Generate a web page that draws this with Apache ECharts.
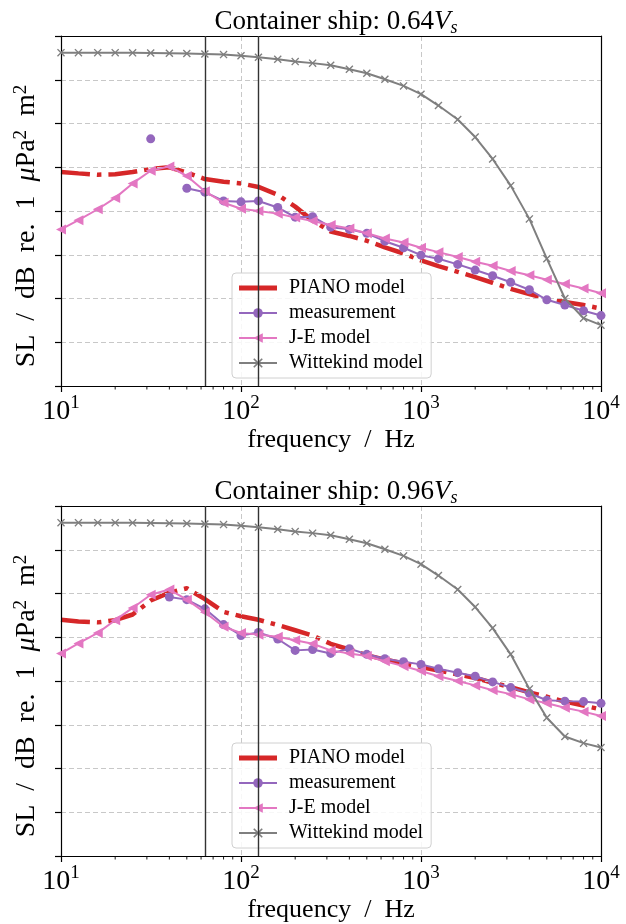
<!DOCTYPE html>
<html><head><meta charset="utf-8">
<script src="https://cdn.jsdelivr.net/npm/echarts@6/dist/echarts.min.js"></script>
<style>html,body{margin:0;padding:0;background:#fff}#c{width:626px;height:924px}</style>
</head><body><div id="c"></div>
<script>
// 1/3-octave band centre frequencies (Hz)
const freqs = [10, 12.5, 16, 20, 25, 31.5, 40, 50, 63, 80, 100, 125, 160, 200, 250, 315, 400, 500, 630, 800, 1000, 1250, 1600, 2000, 2500, 3150, 4000, 5000, 6300, 8000, 10000];

// Panel 1: 0.64 Vs
const pianoA = [148.9, 148.6, 148.3, 148.4, 148.9, 149.6, 150.0, 148.8, 147.3, 146.7, 146.3, 145.5, 143.7, 141.0, 137.8, 135.3, 134.3, 133.2, 131.7, 130.3, 128.7, 127.4, 126.1, 124.9, 123.6, 122.2, 121.0, 120.0, 119.2, 118.5, 117.7];
const measA = [null, null, null, null, null, 156.5, null, 145.2, 144.3, 142.3, 142.1, 142.3, 140.8, 138.6, 138.7, 136.3, 135.8, 134.9, 133.1, 131.6, 129.9, 129.1, 127.8, 126.5, 125.2, 123.7, 122.0, 119.7, 118.5, 117.2, 116.1];
const jeA = [135.8, 137.9, 140.4, 143.0, 146.3, 149.2, 150.2, 148.0, 144.5, 141.9, 140.5, 140.0, 139.4, 138.5, 137.7, 136.8, 136.0, 134.9, 133.7, 132.8, 131.6, 130.6, 129.5, 128.4, 127.5, 126.3, 125.3, 124.3, 123.3, 122.3, 121.2];
const wittA = [176.2, 176.2, 176.2, 176.2, 176.15, 176.1, 176.05, 176.0, 175.9, 175.75, 175.5, 175.15, 174.7, 174.15, 173.8, 173.3, 172.4, 171.5, 170.1, 168.6, 166.7, 164.1, 160.9, 156.9, 151.9, 145.8, 138.2, 129.1, 120.0, 115.5, 113.9];

// Panel 2: 0.96 Vs
const pianoB = [154.0, 153.6, 153.4, 153.9, 155.2, 158.4, 160.2, 161.2, 158.7, 155.8, 154.8, 154.0, 152.8, 151.6, 150.4, 148.5, 147.2, 145.9, 144.9, 144.0, 143.2, 142.4, 141.5, 140.7, 139.6, 138.6, 137.4, 136.4, 135.3, 134.4, 133.5];
const measB = [null, null, null, null, null, null, 159.2, 158.6, 156.5, 152.9, 150.4, 151.1, 149.6, 147.0, 147.2, 146.3, 147.4, 146.1, 145.1, 144.4, 143.8, 142.8, 141.9, 141.1, 139.8, 138.5, 137.2, 135.6, 135.4, 135.3, 134.9];
const jeB = [146.3, 148.6, 151.0, 153.9, 156.7, 159.7, 160.9, 158.6, 155.7, 152.4, 151.0, 150.6, 150.1, 149.3, 148.5, 147.0, 146.3, 145.7, 144.5, 143.4, 142.3, 141.1, 140.0, 139.0, 137.9, 137.0, 135.8, 134.9, 133.9, 133.0, 132.0];
const wittB = [176.2, 176.2, 176.2, 176.2, 176.15, 176.1, 176.05, 176.0, 175.9, 175.75, 175.5, 175.15, 174.7, 174.15, 173.8, 173.3, 172.4, 171.5, 170.1, 168.6, 166.7, 164.1, 160.9, 156.9, 152.1, 146.1, 138.2, 131.6, 127.3, 125.8, 124.8];

const seriesNames = ['PIANO model', 'measurement', 'J-E model', 'Wittekind model'];
const speeds = ['0.64', '0.96'];
const bandEdges = [63, 125];
const minorTicks = [20, 30, 40, 50, 60, 70, 80, 90, 200, 300, 400, 500, 600, 700, 800, 900, 2000, 3000, 4000, 5000, 6000, 7000, 8000, 9000];
const yRange = [100, 180];
const yStep = 10;

const panels = [
  { piano: pianoA, meas: measA, je: jeA, witt: wittA },
  { piano: pianoB, meas: measB, je: jeB, witt: wittB }
];

const FONT = 'Liberation Serif';
const COLORS = ['#d62728', '#9467bd', '#e377c2', '#7f7f7f'];
const XPATH = 'path://M0,1.2L1.2,0L5,3.8L8.8,0L10,1.2L6.2,5L10,8.8L8.8,10L5,6.2L1.2,10L0,8.8L3.8,5Z';
const BAR = 'path://M0,0H38V5H0Z';
const zip = (ys) => freqs.map((f, i) => [f, ys[i]]);

const gridTops = [36, 506];
const gridH = 350;
const nPanels = panels.length;

const grids = [], xAxes = [], yAxes = [], series = [], titles = [], legends = [];

panels.forEach((p, i) => {
  grids.push({ left: 61, width: 540, top: gridTops[i], height: gridH, show: false, containLabel: false });
  xAxes[i] = {
    type: 'log', logBase: 10, min: 10, max: 10000, gridIndex: i, position: 'bottom',
    name: 'frequency  /  Hz', nameLocation: 'middle', nameGap: 41,
    nameTextStyle: { fontFamily: FONT, fontSize: 26, color: '#000' },
    axisLine: { show: true, lineStyle: { color: '#000', width: 1.2 } },
    axisTick: { show: true, inside: false, length: 6, lineStyle: { color: '#000', width: 1.2 } },
    axisLabel: {
      margin: 8, color: '#000',
      formatter: (v) => '{b|10}{s|' + Math.round(Math.log10(v)) + '}',
      rich: {
        b: { fontFamily: FONT, fontSize: 28, lineHeight: 32, verticalAlign: 'bottom', color: '#000' },
        s: { fontFamily: FONT, fontSize: 19, lineHeight: 19, verticalAlign: 'top', color: '#000' }
      }
    },
    splitLine: { show: true, lineStyle: { color: '#c8c8c8', type: [5, 3], width: 1 } },
    z: 3
  };
  // top frame edge
  xAxes[nPanels + i] = {
    type: 'log', logBase: 10, min: 10, max: 10000, gridIndex: i, position: 'top',
    axisLine: { show: true, onZero: false, lineStyle: { color: '#000', width: 1.2 } },
    axisTick: { show: false }, axisLabel: { show: false }, splitLine: { show: false }, z: 3
  };
  yAxes[i] = {
    type: 'value', min: yRange[0], max: yRange[1], interval: yStep, gridIndex: i, position: 'left',
    name: 'SL  /  dB  re.  1  {i|μ}Pa{p|2}  m{p|2}', nameLocation: 'middle', nameGap: 19, nameRotate: 90,
    nameTextStyle: {
      fontFamily: FONT, fontSize: 28, color: '#000', lineHeight: 30, padding: [0, 30, 0, 0],
      rich: {
        i: { fontFamily: FONT, fontSize: 28, fontStyle: 'italic', color: '#000', lineHeight: 30 },
        p: { fontFamily: FONT, fontSize: 19, color: '#000', lineHeight: 19, verticalAlign: 'top' }
      }
    },
    axisLine: { show: true, onZero: false, lineStyle: { color: '#000', width: 1.2 } },
    axisTick: { show: true, inside: false, length: 6, lineStyle: { color: '#000', width: 1.2 } },
    axisLabel: { show: false },
    splitLine: { show: true, lineStyle: { color: '#c8c8c8', type: [5, 3], width: 1 } },
    z: 3
  };
  // right frame edge
  yAxes[nPanels + i] = {
    type: 'value', min: yRange[0], max: yRange[1], interval: yStep, gridIndex: i, position: 'right',
    axisLine: { show: true, onZero: false, lineStyle: { color: '#000', width: 1.2 } },
    axisTick: { show: false }, axisLabel: { show: false }, splitLine: { show: false }, z: 3
  };
  titles.push({
    text: 'Container ship: ' + speeds[i] + '{v|V}{s|s}',
    left: 331, top: gridTops[i] - 34, textAlign: 'center',
    textStyle: {
      fontFamily: FONT, fontSize: 27, fontWeight: 'normal', color: '#000', lineHeight: 30,
      rich: {
        v: { fontFamily: FONT, fontSize: 27, fontStyle: 'italic', color: '#000', lineHeight: 30 },
        s: { fontFamily: FONT, fontSize: 18, fontStyle: 'italic', color: '#000', lineHeight: 18, verticalAlign: 'bottom' }
      }
    }
  });
  legends.push({
    data: seriesNames.map((n, k) => (k === 0 ? { name: n, icon: BAR } : { name: n })),
    orient: 'vertical', left: 232, top: gridTops[i] + 237,
    itemWidth: 38, itemHeight: 12, itemGap: 5, symbolKeepAspect: true,
    padding: [5, 8, 5, 6],
    backgroundColor: 'rgba(255,255,255,0.85)', borderColor: '#d0d0d0', borderWidth: 1, borderRadius: 4,
    textStyle: { fontFamily: FONT, fontSize: 20, color: '#000', lineHeight: 20, padding: [0, 0, 0, 7] },
    selectedMode: false
  });

  series.push({
    name: seriesNames[0], type: 'line', xAxisIndex: i, yAxisIndex: i, data: zip(p.piano),
    symbol: 'none', showSymbol: false, z: 2,
    itemStyle: { color: COLORS[0] },
    lineStyle: { color: COLORS[0], width: 4.5, type: [29, 7, 4.5, 7], cap: 'butt' },
    markLine: {
      silent: true, symbol: 'none', animation: false, label: { show: false },
      lineStyle: { color: '#333', width: 1.4, type: 'solid' },
      emphasis: { disabled: true },
      data: bandEdges.map((f) => ({ xAxis: f }))
    }
  });
  series.push({
    name: seriesNames[1], type: 'line', xAxisIndex: i, yAxisIndex: i, data: zip(p.meas),
    symbol: 'circle', symbolSize: 9, showSymbol: true, connectNulls: false, z: 3,
    itemStyle: { color: COLORS[1] },
    lineStyle: { color: COLORS[1], width: 2 }
  });
  series.push({
    name: seriesNames[2], type: 'line', xAxisIndex: i, yAxisIndex: i, data: zip(p.je),
    symbol: 'triangle', symbolRotate: 90, symbolSize: 10, showSymbol: true, z: 4,
    itemStyle: { color: COLORS[2] },
    lineStyle: { color: COLORS[2], width: 2 }
  });
  series.push({
    name: seriesNames[3], type: 'line', xAxisIndex: i, yAxisIndex: i, data: zip(p.witt),
    symbol: XPATH, symbolSize: 8, showSymbol: true, z: 5,
    itemStyle: { color: COLORS[3] },
    lineStyle: { color: COLORS[3], width: 2 }
  });
  // minor log ticks on the bottom axis, positioned through the axis scale
  series.push({
    type: 'custom', xAxisIndex: i, yAxisIndex: i, silent: true, z: 6,
    data: minorTicks.map((f) => [f, yRange[0]]),
    renderItem: (params, api) => {
      const pt = api.coord([api.value(0), api.value(1)]);
      return { type: 'line', shape: { x1: pt[0], y1: pt[1], x2: pt[0], y2: pt[1] + 3.5 }, style: { stroke: '#000', lineWidth: 0.9 } };
    }
  });
});

const chart = echarts.init(document.getElementById('c'), null, { renderer: 'canvas' });
chart.setOption({
  animation: false,
  backgroundColor: '#fff',
  title: titles,
  legend: legends,
  grid: grids,
  xAxis: xAxes,
  yAxis: yAxes,
  series: series
});
</script>
</body></html>
